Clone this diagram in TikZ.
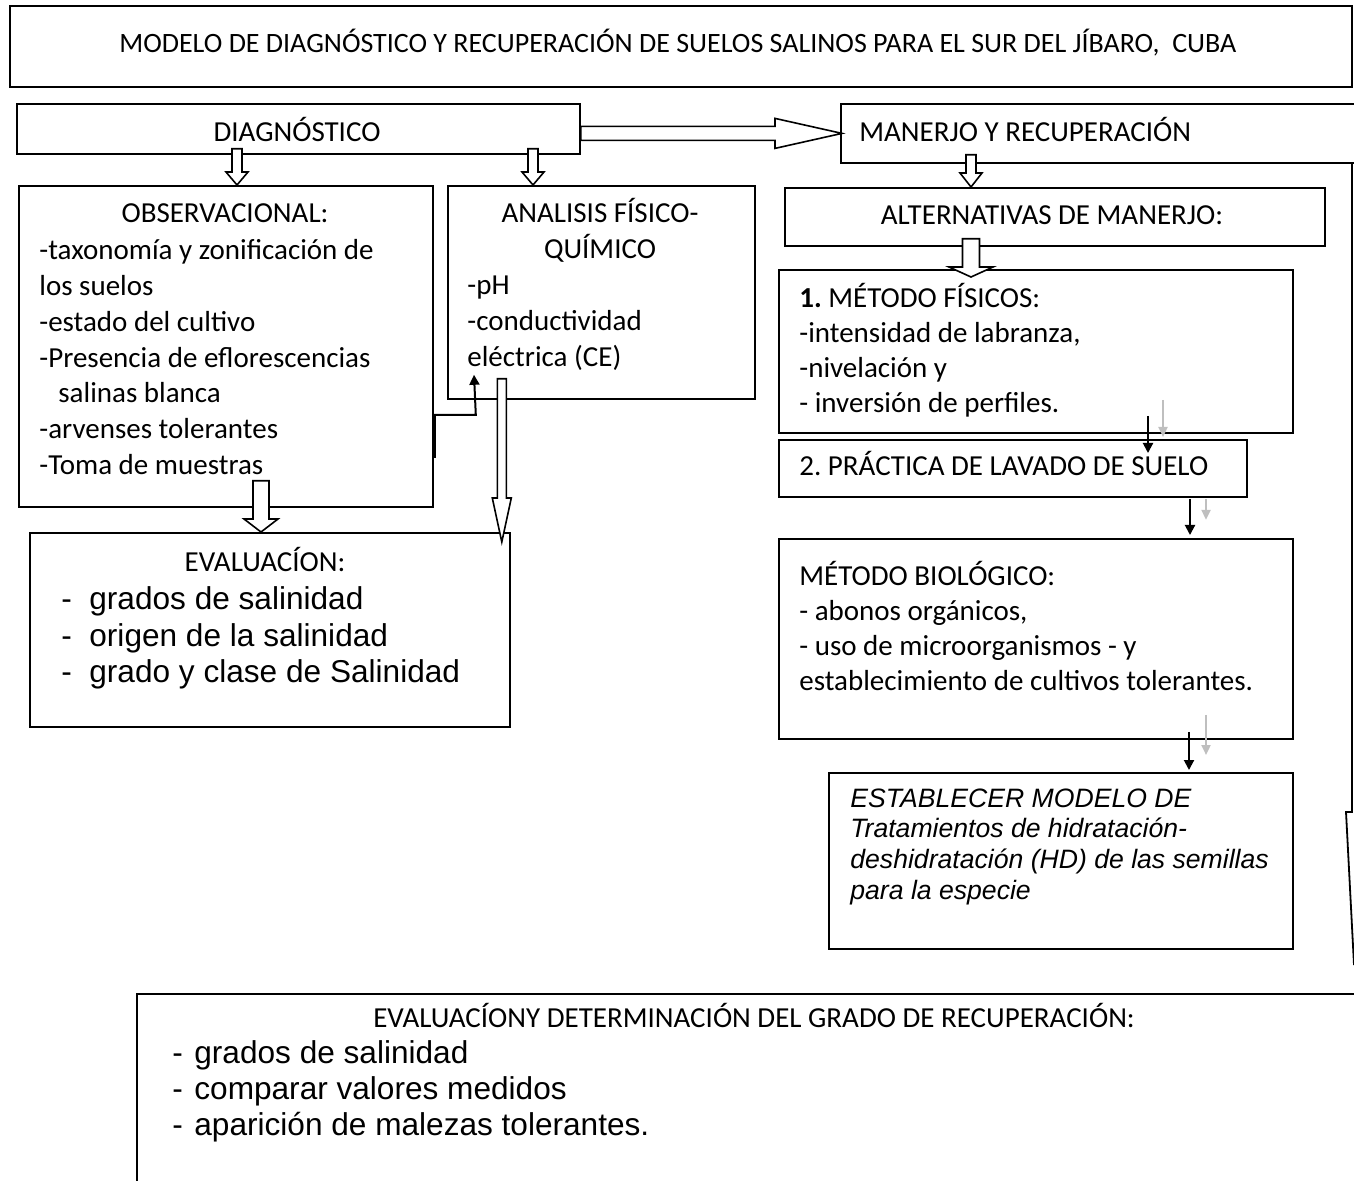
\documentclass[tikz,border=0pt]{standalone}
\usepackage{fontspec}
\setmainfont{Carlito}
\newfontfamily\arialf{Liberation Sans}
\usetikzlibrary{calc,arrows.meta}
\frenchspacing

\tikzset{
  box/.style 2 args={draw, line width=0.9pt, minimum width=#1*0.5pt, minimum height=#2*0.5pt, anchor=north west, inner sep=0pt},
  cal/.style={font=\fontsize{14.5}{17.8}\selectfont, inner sep=0pt, anchor=base west},
  calmid/.style={cal, anchor=base},
  ari/.style={font=\arialf\fontsize{15.8}{18}\selectfont, inner sep=0pt, anchor=base west},
  ita/.style={font=\arialf\itshape\fontsize{13.3}{15.5}\selectfont, inner sep=0pt, anchor=base west},
  hollow/.style={draw, fill=white, line width=0.8pt, line join=miter},
  blk/.style={-{Triangle[length=5pt,width=5pt]}, line width=1pt},
  gry/.style={-{Triangle[length=5pt,width=4.5pt]}, line width=1.1pt, draw=black!25}
}

% hollow block arrow pointing down: start, tip, head length, shaft half width, head half width
\newcommand{\hollowdown}[5]{%
  \draw[hollow] let \p1=(#1), \p2=(#2) in
    (\x2-#4*0.5pt,\y1) -- (\x2-#4*0.5pt,\y2+#3*0.5pt) -- (\x2-#5*0.5pt,\y2+#3*0.5pt) -- (\p2)
    -- (\x2+#5*0.5pt,\y2+#3*0.5pt) -- (\x2+#4*0.5pt,\y2+#3*0.5pt) -- (\x2+#4*0.5pt,\y1) -- cycle;}

\begin{document}
\begin{tikzpicture}[x=0.5pt, y=-0.5pt]
    \useasboundingbox (0,0) rectangle (1354,1181);
    \clip (0,0) rectangle (1354,1181);

    % Title
    \node[box={1342}{81}] (title) at (9,5) {};
    \node[calmid, font=\fontsize{14}{17}\selectfont] (titleT) at ($(title.north)+(-3,48)$) {MODELO DE DIAGNÓSTICO Y RECUPERACIÓN DE SUELOS SALINOS PARA EL SUR DEL JÍBARO,\ \ CUBA};

    % Diagnostico / Manejo
    \node[box={563}{50}] (diag) at (16,103) {};
    \node[calmid] (diagT) at ($(diag.north west)+(281,39)$) {DIAGNÓSTICO};
    \node[box={540}{59}] (man) at (840,103) {};
    \node[cal] (manT) at ($(man.north west)+(19,39)$) {MANERJO Y RECUPERACIÓN};

    % Observacional
    \node[box={414}{321}] (obs) at (18,185) {};
    \node[calmid] (obsT) at ($(obs.north west)+(207,38)$) {OBSERVACIONAL:};
    \foreach \t [count=\i from 0] in {{-taxonomía y zonificación de},{los suelos},{-estado del cultivo},{-Presencia de eflorescencias},{\hspace{9.5pt}salinas blanca},{-arvenses tolerantes},{-Toma de muestras}}
        \node[cal] (obs\i) at ($(obs.north west)+(21,75+35.7*\i)$) {\t};

    % Analisis
    \node[box={307}{213}] (anal) at (447,185) {};
    \node[calmid] (analT1) at ($(anal.north west)+(153,38)$) {ANALISIS FÍSICO-};
    \node[calmid] (analT2) at ($(anal.north west)+(153,74)$) {QUÍMICO};
    \foreach \t [count=\i from 0] in {{-pH},{-conductividad},{eléctrica (CE)}}
        \node[cal] (anal\i) at ($(anal.north west)+(20,110+35.7*\i)$) {\t};

    % Evaluacion
    \node[box={480}{194}] (eval) at (29,532) {};
    \node[calmid] (evalT) at ($(eval.north west)+(236,40)$) {EVALUACÍON:};
    \foreach \t [count=\i from 0] in {{grados de salinidad},{origen de la salinidad},{grado y clase de Salinidad}} {
        \node[ari] (evald\i) at ($(eval.north west)+(32,78+36*\i)$) {-};
        \node[ari] (evalt\i) at ($(eval.north west)+(60,78+36*\i)$) {\t};
    }

    % Alternativas
    \node[box={540}{58}] (alt) at (784,187) {};
    \node[calmid] (altT) at ($(alt.north west)+(268,38)$) {ALTERNATIVAS DE MANERJO:};

    \node[box={514}{163}] (fis) at (778,269) {};
    \foreach \t [count=\i from 0] in {{\textbf{1.} MÉTODO FÍSICOS:},{-intensidad de labranza,},{-nivelación y},{- inversión de perfiles.}}
        \node[cal] (fis\i) at ($(fis.north west)+(21,39+35*\i)$) {\t};

    \node[box={468}{57}] (pra) at (778,439) {};
    \node[cal] (praT) at ($(pra.north west)+(21,37)$) {2. PRÁCTICA DE LAVADO DE SUELO};

    \node[box={514}{200}] (bio) at (778,538) {};
    \foreach \t [count=\i from 0] in {{MÉTODO BIOLÓGICO:},{- abonos orgánicos,},{- uso de microorganismos - y},{establecimiento de cultivos tolerantes.}}
        \node[cal] (bio\i) at ($(bio.north west)+(21,47+35*\i)$) {\t};

    \node[box={464}{176}] (est) at (828,772) {};
    \foreach \t [count=\i from 0] in {{ESTABLECER MODELO DE},{Tratamientos de hidratación-},{deshidratación (HD) de las semillas},{para la especie}}
        \node[ita] (est\i) at ($(est.north west)+(22,35+30.7*\i)$) {\t};

    % Evaluacion final
    \node[box={1300}{300}] (low) at (136,993) {};
    \node[calmid] (lowT) at ($(low.north west)+(618,34)$) {EVALUACÍONY DETERMINACIÓN DEL GRADO DE RECUPERACIÓN:};
    \foreach \t [count=\i from 0] in {{grados de salinidad},{comparar valores medidos},{aparición de malezas tolerantes.}} {
        \node[ari] (lowd\i) at ($(low.north west)+(36,70+36*\i)$) {-};
        \node[ari] (lowt\i) at ($(low.north west)+(58,70+36*\i)$) {\t};
    }

    % Block arrows
    \draw[hollow] let \p1=(diag.east), \p2=($(man.west)+(2,0)$) in
        (\x1,\y2+3.5pt) -- (\x2-33.5pt,\y2+3.5pt) -- (\x2-33.5pt,\y2+7.5pt) -- (\p2)
        -- (\x2-33.5pt,\y2-7.5pt) -- (\x2-33.5pt,\y2-3.5pt) -- (\x1,\y2-3.5pt) -- cycle;
    \hollowdown{$(diag.south west)+(221,-6)$}{$(obs.north west)+(219,0)$}{13}{5}{11}
    \hollowdown{$(diag.south west)+(517,-6)$}{$(anal.north west)+(86,0)$}{13}{5}{11}
    \hollowdown{$(man.south west)+(131,-9)$}{$(alt.north west)+(187,0)$}{14}{5}{11}
    \hollowdown{$(alt.south west)+(187,-8)$}{$(fis.north west)+(193,8)$}{10}{8.5}{22}
    \hollowdown{$(obs.south west)+(243,-27)$}{$(eval.north west)+(232,0)$}{13}{8}{17}
    \hollowdown{$(anal.south west)+(53,-21)$}{$(eval.north east)+(-9,10)$}{44}{4.5}{9.5}

    % Right side return arrow
    \draw[line width=0.9pt] ($(man.south west)+(512,0)$) -- ($(low.north west)+(1216,-181)$)
        -- ++(-6,0) -- ($(low.north west)+(1218,-28)$);

    % Line arrows
    \draw[line width=2pt] ($(obs.north east)+(0,273)$) -- ($(obs.north east)+(0,230)$);
    \draw[blk] ($(obs.north east)+(0,230)$) -- ++(42,0) -- ($(anal.south west)+(27,-25)$);
    \draw[gry] ($(fis.south west)+(385,-34)$) -- ($(pra.north west)+(385,-2)$);
    \draw[blk] ($(fis.south west)+(370,-18)$) -- ($(pra.north west)+(370,14)$);
    \draw[gry] ($(pra.south west)+(428,1)$) -- ($(pra.south west)+(428,22)$);
    \draw[blk] ($(pra.south west)+(412,1)$) -- ($(bio.north west)+(412,-3)$);
    \draw[gry] ($(bio.south west)+(428,-25)$) -- ($(est.north west)+(378,-17)$);
    \draw[blk] ($(bio.south west)+(411,-8)$) -- ($(est.north west)+(361,-2)$);
\end{tikzpicture}
\end{document}
